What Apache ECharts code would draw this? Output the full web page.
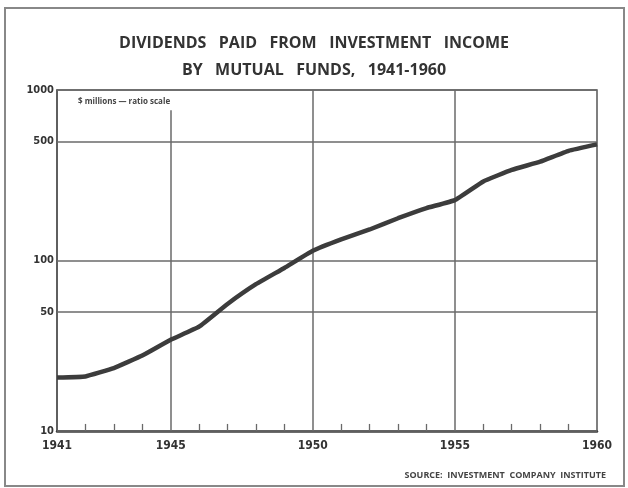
<!DOCTYPE html>
<html>
<head>
<meta charset="utf-8">
<script src="https://cdn.jsdelivr.net/npm/echarts@6/dist/echarts.min.js"></script>
<style>html,body{margin:0;padding:0;background:#fff}#c{width:628px;height:488px}</style>
</head>
<body>
<div id="c"></div>
<script>
var years = [1941,1942,1943,1944,1945,1946,1947,1948,1949,1950,1951,1952,1953,1954,1955,1956,1957,1958,1959,1960];
var dividends = [20.6,20.9,23.4,27.7,34.3,40.9,55.6,72.6,90.4,114,133,152,177,203,226,291,340,380,440,480];
var yTickValues = [10,50,100,500,1000];
var xLabelValues = [1941,1945,1950,1955,1960];
var xMinorTicks = [1942,1943,1944,1946,1947,1948,1949,1951,1952,1953,1954,1956,1957,1958,1959];
var xGridValues = [1950,1955];
var titleText = 'DIVIDENDS   PAID   FROM   INVESTMENT   INCOME\nBY   MUTUAL   FUNDS,   1941-1960';
var unitText = '$ millions \u2014 ratio scale';
var sourceText = 'SOURCE:  INVESTMENT  COMPANY  INSTITUTE';

var ink = '#3c3c3c';
var gridCol = '#6a6a6a';
var numFont = "'DejaVu Sans Condensed', 'Liberation Sans', sans-serif";
var chart = echarts.init(document.getElementById('c'));

var hLines = yTickValues.map(function (v) {
  return {
    yAxis: v,
    lineStyle: { color: gridCol, width: 1.5, type: 'solid' },
    label: { show: true, position: 'start', distance: 3, formatter: String(v),
      color: '#333', fontFamily: numFont, fontWeight: 'bold', fontSize: 11 }
  };
});
var vLines = xGridValues.map(function (v) {
  return { xAxis: v, label: { show: false }, lineStyle: { color: gridCol, width: 1.5, type: 'solid' } };
});
var cut1945 = [
  { coord: [1945, 760], label: { show: false }, lineStyle: { color: gridCol, width: 1.5, type: 'solid' } },
  { coord: [1945, 10] }
];
// short inward year ticks on the base line (10 -> 11 on the ratio scale)
var minorTicks = xMinorTicks.map(function (yr) {
  return [
    { coord: [yr, 10], label: { show: false }, lineStyle: { color: gridCol, width: 1.3, type: 'solid' } },
    { coord: [yr, 11] }
  ];
});

chart.setOption({
  animation: false,
  backgroundColor: '#fff',
  title: {
    text: titleText,
    left: 'center',
    top: 25,
    textStyle: { fontFamily: 'Open Sans', fontWeight: 'bold', fontSize: 16, color: '#333', lineHeight: 27 }
  },
  graphic: [
    { type: 'rect', shape: { x: 5, y: 8, width: 619, height: 478 }, style: { fill: null, stroke: '#888', lineWidth: 2 }, z: -1 },
    { type: 'text', left: 78, top: 98, style: { text: unitText, fontFamily: 'Open Sans', fontWeight: 'bold', fontSize: 8, fill: '#444' } },
    { type: 'text', right: 22, top: 471, style: { text: sourceText, fontFamily: 'Open Sans', fontWeight: 'bold', fontSize: 9, fill: '#444' } }
  ],
  grid: {
    left: 57, right: 31, top: 90, bottom: 57,
    show: true, borderColor: '#555', borderWidth: 1.5
  },
  xAxis: {
    type: 'value', min: 1941, max: 1960,
    axisLine: { show: true, lineStyle: { color: ink, width: 2.5 } },
    axisTick: { show: false },
    axisLabel: { show: true, customValues: xLabelValues, margin: 9, color: '#333',
      formatter: function (v) { return String(v); },
      fontFamily: numFont, fontWeight: 'bold', fontSize: 12 },
    splitLine: { show: false }
  },
  yAxis: {
    type: 'log', logBase: 10, min: 10, max: 1000,
    axisLine: { show: true, lineStyle: { color: '#555', width: 1.5 } },
    axisTick: { show: false },
    axisLabel: { show: false },
    splitLine: { show: false },
    minorSplitLine: { show: false }
  },
  series: [{
    type: 'line',
    data: years.map(function (y, i) { return [y, dividends[i]]; }),
    showSymbol: false,
    smooth: 0.1,
    lineStyle: { color: ink, width: 4.5 },
    z: 5,
    markLine: {
      silent: true,
      symbol: ['none', 'none'],
      animation: false,
      z: 1,
      data: hLines.concat(vLines).concat([cut1945]).concat(minorTicks)
    }
  }]
});
</script>
</body>
</html>
